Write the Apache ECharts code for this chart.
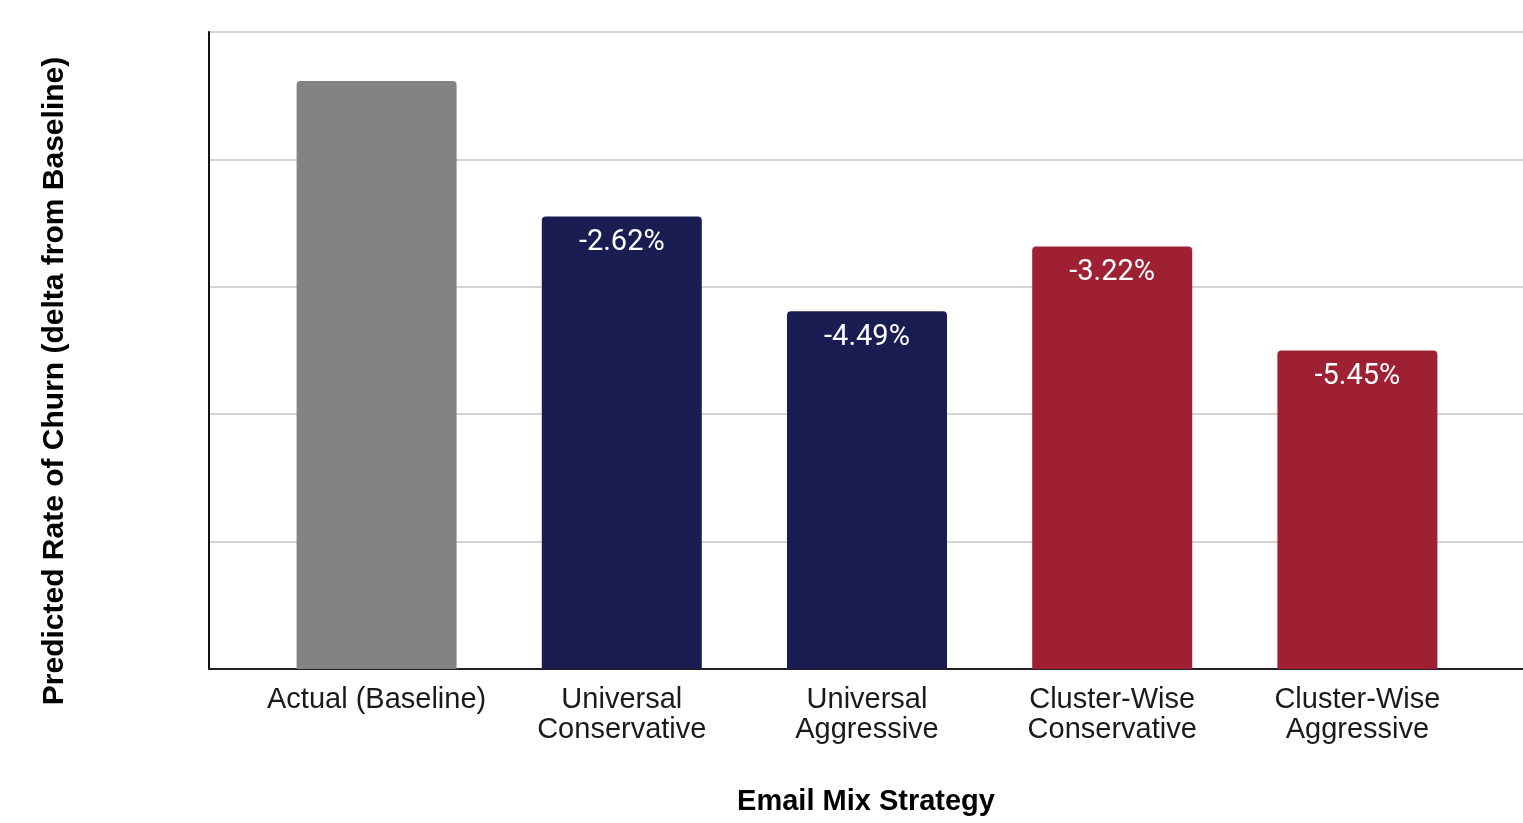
<!DOCTYPE html>
<html>
<head>
<meta charset="utf-8">
<script src="https://cdn.jsdelivr.net/npm/echarts@6/dist/echarts.min.js"></script>
<style>
  html, body { margin: 0; padding: 0; background: #fff; }
  #main { width: 1523px; height: 823px; }
</style>
</head>
<body>
<div id="main"></div>
<script>
// 数据
var categories = [
  'Actual (Baseline)',
  'Universal\nConservative',
  'Universal\nAggressive',
  'Cluster-Wise\nConservative',
  'Cluster-Wise\nAggressive'
];
var churnRate = [11.54, 8.88, 7.02, 8.29, 6.25];
var deltaLabels = ['', '-2.62%', '-4.49%', '-3.22%', '-5.45%'];

// 颜色
var barColors = ['#838385', '#1a1d52', '#1a1d52', '#a02033', '#a02033'];

var yMin = 0;
var yMax = 12.5;
var yStep = 2.5;

var myChart = echarts.init(document.getElementById('main'));

var barData = [];
for (var i = 0; i < churnRate.length; i++) {
  barData.push({
    value: churnRate[i],
    itemStyle: { color: barColors[i] }
  });
}

var option = {
  backgroundColor: '#fff',
  animation: false,
  grid: [
    // 背景网格 + 坐标轴
    { left: 209, right: 0, top: 32, bottom: 154, outerBoundsMode: 'none', containLabel: false },
    // 柱子
    { left: 254, right: 43, top: 32, bottom: 154, outerBoundsMode: 'none', containLabel: false }
  ],
  xAxis: [
    {
      gridIndex: 0,
      type: 'category',
      data: [''],
      axisLine: { lineStyle: { color: '#222', width: 2 } },
      axisTick: { show: false },
      axisLabel: { show: false }
    },
    {
      gridIndex: 1,
      type: 'category',
      data: categories,
      axisLine: { show: false },
      axisTick: { show: false },
      axisLabel: {
        margin: 16,
        interval: 0,
        fontFamily: 'Liberation Sans, Arial, sans-serif',
        fontSize: 29,
        lineHeight: 30,
        color: '#1a1a1a'
      }
    }
  ],
  yAxis: [
    {
      gridIndex: 0,
      type: 'value',
      min: yMin,
      max: yMax,
      interval: yStep,
      axisLine: { show: true, lineStyle: { color: '#111', width: 2 } },
      axisTick: { show: false },
      axisLabel: { show: false },
      splitLine: { lineStyle: { color: '#c4c4c4', width: 1.5 } }
    },
    {
      gridIndex: 1,
      type: 'value',
      min: yMin,
      max: yMax,
      interval: yStep,
      show: false
    }
  ],
  graphic: [
    {
      type: 'text',
      x: 55,
      y: 381,
      rotation: Math.PI / 2,
      style: {
        text: 'Predicted Rate of Churn (delta from Baseline)',
        fontFamily: 'Liberation Sans, Arial, sans-serif',
        fontWeight: 'bold',
        fontSize: 30,
        fill: '#000',
        align: 'center',
        verticalAlign: 'middle'
      }
    },
    {
      type: 'text',
      x: 866,
      y: 802,
      style: {
        text: 'Email Mix Strategy',
        fontFamily: 'Liberation Sans, Arial, sans-serif',
        fontWeight: 'bold',
        fontSize: 29,
        fill: '#000',
        align: 'center',
        verticalAlign: 'middle'
      }
    }
  ],
  series: [
    {
      type: 'bar',
      xAxisIndex: 1,
      yAxisIndex: 1,
      barWidth: 160,
      data: barData,
      itemStyle: { borderRadius: [4, 4, 0, 0] },
      label: {
        show: true,
        position: 'insideTop',
        distance: 12,
        fontFamily: 'Roboto, sans-serif',
        fontSize: 29,
        color: '#fff',
        formatter: function (params) {
          return deltaLabels[params.dataIndex];
        }
      }
    }
  ]
};
myChart.setOption(option);
</script>
</body>
</html>
